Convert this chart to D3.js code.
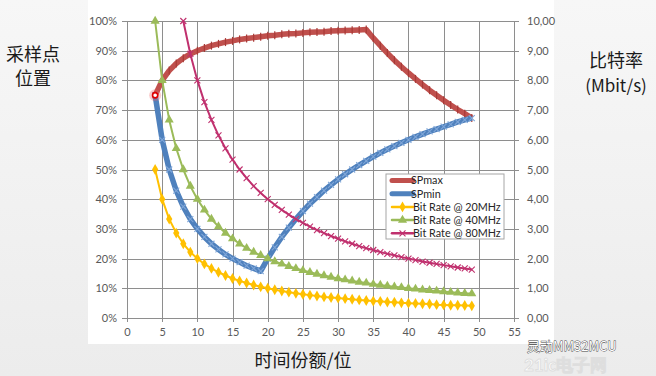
<!DOCTYPE html>
<html>
<head>
<meta charset="utf-8">
<script src="https://cdn.jsdelivr.net/npm/d3@7"></script>
<style>
  html, body { margin: 0; padding: 0; background: #f3f3f3; }
  svg { display: block; }
  .tick-label { font-family: Lato, "Liberation Sans", sans-serif; font-size: 11px; fill: #595959; }
  .cjk { font-family: "Noto Sans CJK SC", sans-serif; fill: #1a1a1a; }
  .legend-text { font-family: Lato, "Liberation Sans", sans-serif; font-size: 10.8px; fill: #262626; }
</style>
</head>
<body>
<div id="chart"></div>
<script>
// time quanta per bit
const tq = [4, 5, 6, 7, 8, 9, 10, 11, 12, 13, 14, 15, 16, 17, 18, 19, 20, 21, 22, 23, 24, 25, 26,
  27, 28, 29, 30, 31, 32, 33, 34, 35, 36, 37, 38, 39, 40, 41, 42, 43, 44, 45, 46, 47, 48, 49];
const tq80 = [8, 9, 10, 11, 12, 13, 14, 15, 16, 17, 18, 19, 20, 21, 22, 23, 24, 25, 26, 27, 28,
  29, 30, 31, 32, 33, 34, 35, 36, 37, 38, 39, 40, 41, 42, 43, 44, 45, 46, 47, 48, 49];

// sample point (%), left axis
const spMax = [75.0, 80.0, 83.3, 85.7, 87.5, 88.9, 90.0, 90.9, 91.7, 92.3, 92.9, 93.3, 93.8, 94.1,
  94.4, 94.7, 95.0, 95.2, 95.5, 95.7, 95.8, 96.0, 96.2, 96.3, 96.4, 96.6, 96.7, 96.8, 96.9, 97.0,
  97.1, 94.3, 91.7, 89.2, 86.8, 84.6, 82.5, 80.5, 78.6, 76.7, 75.0, 73.3, 71.7, 70.2, 68.8, 67.3];
const spMin = [75.0, 60.0, 50.0, 42.9, 37.5, 33.3, 30.0, 27.3, 25.0, 23.1, 21.4, 20.0, 18.8, 17.6,
  16.7, 15.8, 20.0, 23.8, 27.3, 30.4, 33.3, 36.0, 38.5, 40.7, 42.9, 44.8, 46.7, 48.4, 50.0, 51.5,
  52.9, 54.3, 55.6, 56.8, 57.9, 59.0, 60.0, 61.0, 61.9, 62.8, 63.6, 64.4, 65.2, 66.0, 66.7, 67.3];

// bit rate (Mbit/s), right axis
const rate20 = [5.00, 4.00, 3.33, 2.86, 2.50, 2.22, 2.00, 1.82, 1.67, 1.54, 1.43, 1.33, 1.25, 1.18,
  1.11, 1.05, 1.00, 0.95, 0.91, 0.87, 0.83, 0.80, 0.77, 0.74, 0.71, 0.69, 0.67, 0.65, 0.63, 0.61,
  0.59, 0.57, 0.56, 0.54, 0.53, 0.51, 0.50, 0.49, 0.48, 0.47, 0.45, 0.44, 0.43, 0.43, 0.42, 0.41];
const rate40 = [10.00, 8.00, 6.67, 5.71, 5.00, 4.44, 4.00, 3.64, 3.33, 3.08, 2.86, 2.67, 2.50, 2.35,
  2.22, 2.11, 2.00, 1.90, 1.82, 1.74, 1.67, 1.60, 1.54, 1.48, 1.43, 1.38, 1.33, 1.29, 1.25, 1.21,
  1.18, 1.14, 1.11, 1.08, 1.05, 1.03, 1.00, 0.98, 0.95, 0.93, 0.91, 0.89, 0.87, 0.85, 0.83, 0.82];
const rate80 = [10.00, 8.89, 8.00, 7.27, 6.67, 6.15, 5.71, 5.33, 5.00, 4.71, 4.44, 4.21, 4.00, 3.81,
  3.64, 3.48, 3.33, 3.20, 3.08, 2.96, 2.86, 2.76, 2.67, 2.58, 2.50, 2.42, 2.35, 2.29, 2.22, 2.16,
  2.11, 2.05, 2.00, 1.95, 1.90, 1.86, 1.82, 1.78, 1.74, 1.70, 1.67, 1.63];

const xTicks = [0, 5, 10, 15, 20, 25, 30, 35, 40, 45, 50, 55];
const leftTicks = [0, 10, 20, 30, 40, 50, 60, 70, 80, 90, 100];
const rightTicks = [0, 1, 2, 3, 4, 5, 6, 7, 8, 9, 10];
const legendNames = ["SPmax", "SPmin", "Bit Rate @ 20MHz", "Bit Rate @ 40MHz", "Bit Rate @ 80MHz"];

const W = 656, H = 376;
const PLOT = { left: 127, right: 514, top: 21, bottom: 318 };

const svg = d3.select('#chart').append('svg').attr('width', W).attr('height', H);

// slide background + white chart picture
const grad = svg.append('defs').append('linearGradient')
  .attr('id', 'bg').attr('x1', 0).attr('y1', 0).attr('x2', 0).attr('y2', 1);
grad.append('stop').attr('offset', '0%').attr('stop-color', '#f7f7f7');
grad.append('stop').attr('offset', '100%').attr('stop-color', '#ececec');
svg.append('rect').attr('width', W).attr('height', H).attr('fill', 'url(#bg)');
svg.append('rect').attr('x', 88).attr('y', 0).attr('width', 466).attr('height', 344).attr('fill', '#fff');

// scales
const x = d3.scaleLinear().domain([0, 55]).range([PLOT.left, PLOT.right]);
const yL = d3.scaleLinear().domain([0, 100]).range([PLOT.bottom, PLOT.top]);
const yR = d3.scaleLinear().domain([0, 10]).range([PLOT.bottom, PLOT.top]);

// grid
const $grid = svg.append('g').attr('stroke', '#8e8e8e').attr('stroke-width', 1).attr('shape-rendering', 'crispEdges');
$grid.selectAll('line.h').data(leftTicks).join('line')
  .attr('x1', PLOT.left - 5).attr('x2', PLOT.right + 5)
  .attr('y1', d => Math.round(yL(d)) + 0.5).attr('y2', d => Math.round(yL(d)) + 0.5);
$grid.selectAll('line.v').data(xTicks).join('line')
  .attr('x1', d => Math.round(x(d)) + 0.5).attr('x2', d => Math.round(x(d)) + 0.5)
  .attr('y1', PLOT.top).attr('y2', PLOT.bottom + 4);

// axes (labels only; lines drawn by the grid)
const axisL = d3.axisLeft(yL).tickValues(leftTicks).tickSize(0).tickPadding(10).tickFormat(d => d + '%');
const axisR = d3.axisRight(yR).tickValues(rightTicks).tickSize(0).tickPadding(13).tickFormat(d => d3.format('.2f')(d).replace('.', ','));
const axisB = d3.axisBottom(x).tickValues(xTicks).tickSize(0).tickPadding(10);

[[axisL, `translate(${PLOT.left},0)`], [axisR, `translate(${PLOT.right},0)`], [axisB, `translate(0,${PLOT.bottom})`]]
  .forEach(([ax, tr]) => {
    svg.append('g').attr('transform', tr).call(ax)
      .call(g => g.select('.domain').remove())
      .call(g => g.selectAll('text').attr('class', 'tick-label').attr('fill', null));
  });

// series
const seriesDefs = [
  { name: legendNames[0], xs: tq, ys: spMax, scale: yL, color: '#c0504d', width: 5.5, marker: 'plus', mcolor: '#a83a37' },
  { name: legendNames[1], xs: tq, ys: spMin, scale: yL, color: '#4f81bd', width: 5.5, marker: 'cross', mcolor: '#7fa6d8' },
  { name: legendNames[2], xs: tq, ys: rate20, scale: yR, color: '#ffc000', width: 2, marker: 'diamond', mcolor: '#ffc000' },
  { name: legendNames[3], xs: tq, ys: rate40, scale: yR, color: '#9bbb59', width: 2, marker: 'triangle', mcolor: '#9bbb59' },
  { name: legendNames[4], xs: tq80, ys: rate80, scale: yR, color: '#c0306e', width: 2, marker: 'cross', mcolor: '#c0306e' },
];

const symbols = {
  diamond: d3.symbol().type(d3.symbolDiamond).size(34),
  triangle: d3.symbol().type(d3.symbolTriangle).size(36),
};

function drawMarker(g, type, color, px, py) {
  if (type === 'plus') {
    g.append('line').attr('x1', px).attr('x2', px).attr('y1', py - 4).attr('y2', py + 4)
      .attr('stroke', color).attr('stroke-width', 1.2);
  } else if (type === 'cross') {
    g.append('path').attr('d', `M${px - 3},${py - 3}L${px + 3},${py + 3}M${px - 3},${py + 3}L${px + 3},${py - 3}`)
      .attr('stroke', color).attr('stroke-width', 1.1).attr('fill', 'none');
  } else {
    g.append('path').attr('d', symbols[type]()).attr('transform', `translate(${px},${py})`).attr('fill', color);
  }
}

const $vis = svg.append('g').attr('class', 'g-vis');
seriesDefs.forEach(s => {
  const pts = s.xs.map((v, i) => [x(v), s.scale(s.ys[i])]);
  const $s = $vis.append('g');
  $s.append('path').attr('d', d3.line()(pts)).attr('fill', 'none')
    .attr('stroke', s.color).attr('stroke-width', s.width).attr('stroke-linejoin', 'round');
  pts.forEach(p => drawMarker($s, s.marker, s.mcolor, p[0], p[1]));
});

// highlighted first SPmax point
$vis.append('circle').attr('cx', x(tq[0])).attr('cy', yL(spMax[0])).attr('r', 6).attr('fill', 'rgba(240,90,90,0.3)');
$vis.append('circle').attr('cx', x(tq[0])).attr('cy', yL(spMax[0])).attr('r', 2.6)
  .attr('fill', '#fff').attr('stroke', '#e00000').attr('stroke-width', 1.6);

// legend
const $legend = svg.append('g').attr('transform', 'translate(386,174)');
$legend.append('rect').attr('width', 118).attr('height', 65).attr('fill', '#fff').attr('stroke', '#a6a6a6');
seriesDefs.forEach((s, i) => {
  const ly = 6.5 + i * 13.2;
  $legend.append('line').attr('x1', 6).attr('x2', 27).attr('y1', ly).attr('y2', ly)
    .attr('stroke', s.color).attr('stroke-width', s.width > 3 ? 5 : 2.5).attr('stroke-linecap', 'round');
  const g = $legend.append('g');
  if (i > 1) drawMarker(g, s.marker, s.mcolor, 16.5, ly);
  $legend.append('text').attr('class', 'legend-text').attr('x', i < 2 ? 25 : 27).attr('y', ly + 3.8).text(s.name);
});

// axis titles
svg.append('text').attr('class', 'cjk').attr('x', 33).attr('y', 61).attr('text-anchor', 'middle').attr('font-size', 18).text('采样点');
svg.append('text').attr('class', 'cjk').attr('x', 33).attr('y', 85).attr('text-anchor', 'middle').attr('font-size', 18).text('位置');
svg.append('text').attr('class', 'cjk').attr('x', 616).attr('y', 67).attr('text-anchor', 'middle').attr('font-size', 18).text('比特率');
svg.append('text').attr('class', 'cjk').attr('x', 616).attr('y', 92).attr('text-anchor', 'middle').attr('font-size', 17).text('(Mbit/s)');
svg.append('text').attr('class', 'cjk').attr('x', 303).attr('y', 367).attr('text-anchor', 'middle').attr('font-size', 18).text('时间份额/位');

// watermark
svg.append('text').attr('x', 524).attr('y', 371).attr('font-family', 'Lato, sans-serif').attr('font-weight', 'bold')
  .attr('font-size', 17).attr('fill', '#ffffff').attr('stroke', '#dedede').attr('stroke-width', 1).text('21ic电子网');
svg.append('text').attr('x', 527).attr('y', 351).attr('font-family', '"Noto Sans CJK SC", sans-serif')
  .attr('font-size', 13).attr('fill', '#fff').attr('stroke', '#444').attr('stroke-width', 0.8).attr('paint-order', 'stroke')
  .text('灵动MM32MCU');
</script>
</body>
</html>
